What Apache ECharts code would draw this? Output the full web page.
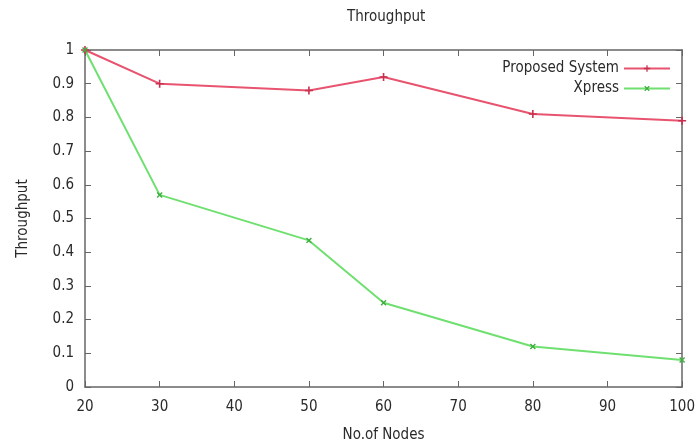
<!DOCTYPE html>
<html>
<head>
<meta charset="utf-8">
<script src="https://cdn.jsdelivr.net/npm/echarts@6/dist/echarts.min.js"></script>
<style>
  html, body { margin: 0; padding: 0; background: #fff; }
  #chart { width: 698px; height: 448px; }
</style>
</head>
<body>
<div id="chart"></div>
<script>
// values
var nodes = [20, 30, 50, 60, 80, 100];
var proposed = [1.0, 0.9, 0.88, 0.92, 0.81, 0.79];
var xpress = [1.0, 0.57, 0.435, 0.25, 0.12, 0.08];

var font = '"DejaVu Sans Condensed", "DejaVu Sans", sans-serif';
var fs = 15;
var txt = '#2a2a2a';
var axisColor = '#666';
var plusPath = 'path://M4,0h2v4h4v2h-4v4h-2v-4h-4v-2h4z';

function pairs(xs, ys) {
  return xs.map(function (x, i) { return [x, ys[i]]; });
}

// plain border axis (no labels) used for the top and right mirrors
function mirror(type, pos, min, max, step) {
  return {
    type: type, position: pos, min: min, max: max, interval: step,
    axisLine: { show: true, onZero: false, lineStyle: { color: axisColor, width: 1.5 } },
    axisTick: { show: true, inside: true, length: 6, lineStyle: { color: axisColor } },
    axisLabel: { show: false },
    splitLine: { show: false }
  };
}

var chart = echarts.init(document.getElementById('chart'));
var option = {
  animation: false,
  textStyle: { fontFamily: font },
  title: {
    text: 'Throughput', left: 342, top: 5,
    textStyle: { fontSize: fs, fontWeight: 'normal', color: txt, fontFamily: font }
  },
  legend: [
    {
      data: ['Proposed System'], right: 22, top: 56, align: 'right',
      itemWidth: 46, itemHeight: 8,
      textStyle: { fontSize: fs, color: txt, fontFamily: font }
    },
    {
      data: ['Xpress'], right: 22, top: 76, align: 'right',
      itemWidth: 46, itemHeight: 8,
      textStyle: { fontSize: fs, color: txt, fontFamily: font }
    }
  ],
  grid: { left: 85, right: 10, top: 50, bottom: 60 },
  xAxis: [
    {
      type: 'value', min: 20, max: 100, interval: 10,
      name: 'No.of Nodes', nameLocation: 'middle', nameGap: 41,
      nameTextStyle: { fontSize: fs, color: txt, fontFamily: font },
      axisLine: { show: true, onZero: false, lineStyle: { color: axisColor, width: 1.5 } },
      axisTick: { show: true, inside: true, length: 6, lineStyle: { color: axisColor } },
      axisLabel: { fontSize: fs, color: txt, margin: 13, fontFamily: font },
      splitLine: { show: false }
    },
    mirror('value', 'top', 20, 100, 10)
  ],
  yAxis: [
    {
      type: 'value', min: 0, max: 1, interval: 0.1,
      name: 'Throughput', nameLocation: 'middle', nameGap: 54,
      nameTextStyle: { fontSize: fs, color: txt, fontFamily: font },
      axisLine: { show: true, onZero: false, lineStyle: { color: axisColor, width: 1.5 } },
      axisTick: { show: true, inside: true, length: 6, lineStyle: { color: axisColor } },
      axisLabel: {
        fontSize: fs, color: txt, margin: 11, fontFamily: font,
        formatter: function (v) { return String(Math.round(v * 10) / 10); }
      },
      splitLine: { show: false }
    },
    mirror('value', 'right', 0, 1, 0.1)
  ],
  series: [
    {
      name: 'Proposed System', type: 'line',
      data: pairs(nodes, proposed),
      symbol: plusPath, symbolSize: 8,
      lineStyle: { color: '#e8536f', width: 2 },
      itemStyle: { color: '#c8304f' }
    },
    {
      name: 'Xpress', type: 'line',
      data: pairs(nodes, xpress),
      symbol: plusPath, symbolSize: 7, symbolRotate: 45,
      lineStyle: { color: '#6fe06f', width: 2 },
      itemStyle: { color: '#3fae3f' }
    }
  ]
};
chart.setOption(option);
</script>
</body>
</html>
